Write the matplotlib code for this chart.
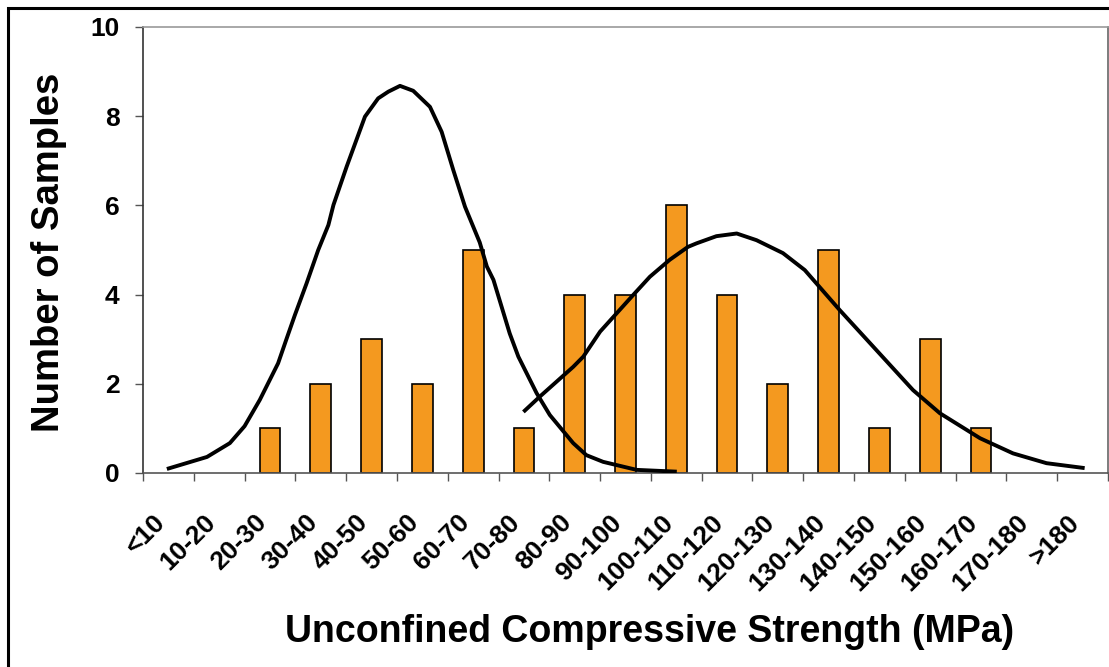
import matplotlib
matplotlib.use('Agg')
from matplotlib import pyplot as plt
from matplotlib.patches import Rectangle
import matplotlib.transforms as mtransforms
import numpy as np

categories = ['<10', '10-20', '20-30', '30-40', '40-50', '50-60', '60-70',
              '70-80', '80-90', '90-100', '100-110', '110-120', '120-130',
              '130-140', '140-150', '150-160', '160-170', '170-180', '>180']
counts = [0, 0, 1, 2, 3, 2, 5, 1, 4, 4, 6, 4, 2, 5, 1, 3, 1, 0, 0]

# fitted distribution curves (strength in MPa, number of samples)
fit1_mpa = [4.7, 12.6, 17.1, 20.0, 23.0, 26.6, 28.3, 29.9, 32.2, 34.5, 36.5,
            37.5, 40.1, 43.7, 46.3, 48.3, 50.6, 53.2, 56.5, 58.8, 61.1, 63.4,
            66.3, 67.7, 69.0, 72.2, 73.9, 77.5, 80.1, 84.7, 87.3, 90.6, 97.2,
            105.1]
fit1_n = [0.09, 0.36, 0.67, 1.05, 1.64, 2.46, 3.02, 3.54, 4.25, 5.00, 5.56,
          6.01, 6.87, 7.99, 8.40, 8.55, 8.68, 8.57, 8.21, 7.65, 6.79, 5.97,
          5.17, 4.63, 4.33, 3.13, 2.61, 1.79, 1.30, 0.67, 0.40, 0.25, 0.07,
          0.03]

fit2_mpa = [74.9, 78.1, 84.7, 86.7, 90.0, 96.5, 99.8, 103.7, 107.3, 109.0,
            112.9, 116.9, 120.8, 126.0, 130.3, 137.2, 143.8, 151.6, 156.9,
            164.8, 171.3, 177.9, 185.4]
fit2_n = [1.37, 1.71, 2.38, 2.61, 3.17, 3.99, 4.40, 4.78, 5.07, 5.15, 5.31,
          5.37, 5.22, 4.93, 4.55, 3.65, 2.83, 1.86, 1.34, 0.78, 0.44, 0.22,
          0.11]

plt.rcParams['font.family'] = 'Liberation Sans'
plt.rcParams['font.weight'] = 'bold'

W, H = 1109, 667
fig = plt.figure(figsize=(W / 100, H / 100), dpi=100)
ax = fig.add_axes([143 / W, 194 / H, 965 / W, 446 / H])

pos = np.arange(len(categories))
counts = np.array(counts)
nz = counts > 0
ax.bar(pos[nz], counts[nz], width=0.41, color='#F4991F',
       edgecolor='black', linewidth=1.2, zorder=2)


def mpa_to_pos(mpa):
    # category centres sit at 5, 15, 25 ... MPa
    return (np.asarray(mpa) - 5) / 10


for xs, ys in [(fit1_mpa, fit1_n), (fit2_mpa, fit2_n)]:
    ax.plot(mpa_to_pos(xs), ys, color='black', lw=2.8, zorder=3,
            solid_joinstyle='round', solid_capstyle='butt')

ax.set_xlim(-0.5, len(categories) - 0.5)
ax.set_ylim(0, 10)

ax.set_yticks(range(0, 11, 2))
ax.tick_params(axis='y', length=5.8, width=1, color='#555555', pad=11,
               labelsize=19)

ax.set_xticks(pos)
ax.set_xticklabels(categories, rotation=45, ha='right', va='center',
                   rotation_mode='anchor')
ax.set_xticks(np.arange(-0.5, len(categories)), minor=True)
ax.tick_params(axis='x', which='major', length=0, pad=33, labelsize=19)
ax.tick_params(axis='x', which='minor', length=5.8, width=1, color='#555555')
shift = mtransforms.ScaledTranslation(-7 / 100, 0, fig.dpi_scale_trans)
for lbl in ax.get_xticklabels():
    lbl.set_transform(lbl.get_transform() + shift)

ax.spines['left'].set_color('#333333')
ax.spines['bottom'].set_color('#555555')
ax.spines['top'].set_color('#999999')
ax.spines['right'].set_color('#666666')
for s in ax.spines.values():
    s.set_linewidth(1.2)

fig.text(49 / W, 1 - 252 / H, 'Number of Samples', rotation=90,
         ha='center', va='center', fontsize=27.5)
fig.text(650 / W, 1 - 632 / H, 'Unconfined Compressive Strength (MPa)',
         ha='center', va='center', fontsize=27)

# outer frame
fig.patches.append(Rectangle((8 / W, -0.05), 1.2, 1.05 - 8 / H,
                             transform=fig.transFigure, fill=False,
                             edgecolor='black', linewidth=2.2))

fig.savefig('out.png', dpi=100)
